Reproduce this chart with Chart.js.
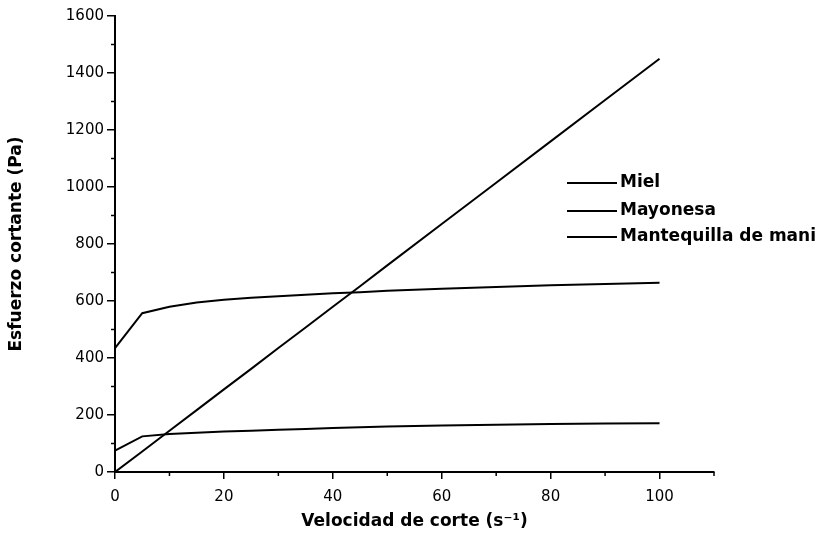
<!DOCTYPE html>
<html>
<head>
<meta charset="utf-8">
<script src="https://cdn.jsdelivr.net/npm/chart.js@4.4.1/dist/chart.umd.min.js"></script>
<style>
    html, body { margin: 0; padding: 0; background: #fff; }
    #wrap { width: 819px; height: 548px; }
</style>
</head>
<body>
<div id="wrap"><canvas id="chart1" width="819" height="548"></canvas></div>
<script>
// velocidad de corte (s-1)
const shearRate = [0, 5, 10, 15, 20, 25, 30, 35, 40, 45, 50, 60, 70, 80, 90, 100];
// esfuerzo cortante (Pa)
const miel = [0, 72, 145, 217, 290, 362, 435, 507, 580, 652, 725, 870, 1015, 1160, 1305, 1450];
const mayonesa = [75, 125, 133, 138, 142, 145, 148, 151, 154, 157, 160, 163, 166, 168, 170, 171];
const mantequilla = [435, 557, 580, 595, 604, 611, 617, 622, 627, 631, 636, 643, 649, 655, 660, 664];
const seriesNames = ['Miel', 'Mayonesa', 'Mantequilla de mani'];

const xTicksMajor = [0, 20, 40, 60, 80, 100];
const xTicksMinor = [10, 30, 50, 70, 90, 110];
const yTicksMinor = [100, 300, 500, 700, 900, 1100, 1300, 1500];

function toPoints(ys) {
    return shearRate.map((x, i) => ({ x: x, y: ys[i] }));
}

// ticks menores y leyenda
const extras = {
    id: 'extras',
    afterDraw(chart) {
        const ctx = chart.ctx;
        const xs = chart.scales.x;
        const ys = chart.scales.y;
        const area = chart.chartArea;
        ctx.save();
        ctx.strokeStyle = '#000';
        ctx.lineWidth = 1.5;
        yTicksMinor.forEach(v => {
            const py = ys.getPixelForValue(v);
            ctx.beginPath();
            ctx.moveTo(area.left - 4, py);
            ctx.lineTo(area.left, py);
            ctx.stroke();
        });
        xTicksMinor.forEach(v => {
            const px = xs.getPixelForValue(v);
            ctx.beginPath();
            ctx.moveTo(px, area.bottom);
            ctx.lineTo(px, area.bottom + 4);
            ctx.stroke();
        });

        // leyenda
        ctx.font = 'bold 17px "DejaVu Sans"';
        ctx.fillStyle = '#000';
        ctx.textBaseline = 'middle';
        ctx.lineWidth = 2;
        const rows = [183, 211, 237];
        chart.data.datasets.forEach((ds, i) => {
            ctx.beginPath();
            ctx.moveTo(567, rows[i]);
            ctx.lineTo(617, rows[i]);
            ctx.stroke();
            ctx.fillText(ds.label, 620, rows[i]);
        });
        ctx.restore();
    }
};

const ctx = document.getElementById('chart1').getContext('2d');
const lineChart = new Chart(ctx, {
    type: 'scatter',
    data: {
        datasets: [
            { label: seriesNames[0], data: toPoints(miel) },
            { label: seriesNames[1], data: toPoints(mayonesa) },
            { label: seriesNames[2], data: toPoints(mantequilla) }
        ].map(ds => Object.assign(ds, {
            showLine: true,
            borderColor: '#000',
            borderWidth: 2,
            pointRadius: 0,
            tension: 0
        }))
    },
    options: {
        responsive: false,
        animation: false,
        layout: { padding: { top: 16, right: 105, left: 0, bottom: 0 } },
        plugins: {
            legend: { display: false },
            tooltip: { enabled: false }
        },
        scales: {
            x: {
                type: 'linear',
                min: 0,
                max: 110,
                afterFit: s => { s.height = 76; },
                afterBuildTicks: s => { s.ticks = xTicksMajor.map(v => ({ value: v })); },
                ticks: {
                    color: '#000',
                    padding: 9,
                    callback: v => String(v),
                    font: { family: 'DejaVu Sans', size: 15 }
                },
                grid: { drawOnChartArea: false, color: '#000', lineWidth: 1.5, tickLength: 7 },
                border: { display: true, color: '#000', width: 2 },
                title: {
                    display: true,
                    text: 'Velocidad de corte (s\u207B\u00B9)',
                    color: '#000',
                    font: { family: 'DejaVu Sans', size: 17, weight: 'bold' },
                    padding: { top: 4, bottom: 16 }
                }
            },
            y: {
                type: 'linear',
                min: 0,
                max: 1600,
                afterFit: s => { s.width = 115; },
                ticks: {
                    stepSize: 200,
                    color: '#000',
                    padding: 3,
                    callback: v => String(v),
                    font: { family: 'DejaVu Sans', size: 15 }
                },
                grid: { drawOnChartArea: false, color: '#000', lineWidth: 1.5, tickLength: 8 },
                border: { display: true, color: '#000', width: 2 },
                title: {
                    display: true,
                    text: 'Esfuerzo cortante (Pa)',
                    color: '#000',
                    font: { family: 'DejaVu Sans', size: 17, weight: 'bold' },
                    padding: { top: 6, bottom: 4 }
                }
            }
        }
    },
    plugins: [extras]
});
</script>
</body>
</html>
